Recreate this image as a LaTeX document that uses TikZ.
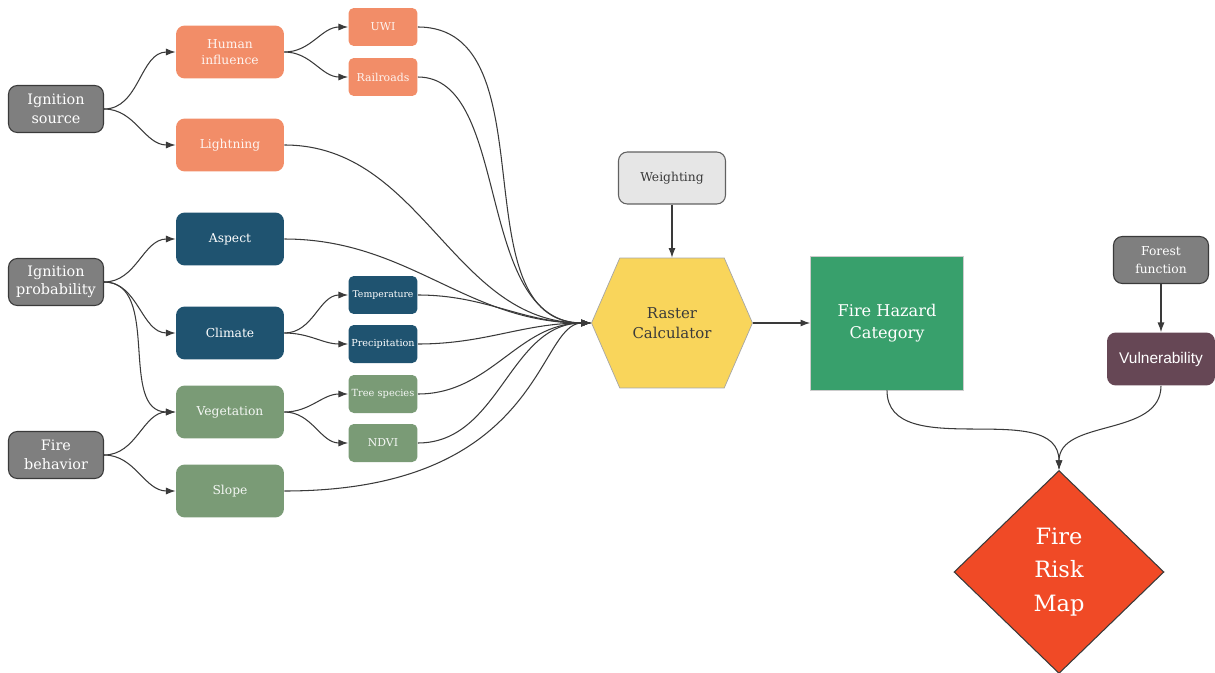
\documentclass[tikz,border=0pt]{standalone}
\usepackage{fontspec}
\setmainfont{DejaVu Serif}
\newfontfamily\arialfont{Liberation Sans}
\usetikzlibrary{arrows.meta,shapes.geometric,shapes.symbols}
\definecolor{salmon}{HTML}{F28D68}
\definecolor{deepblue}{HTML}{1F5370}
\definecolor{sage}{HTML}{7A9B76}
\definecolor{srcgray}{HTML}{7F7F7F}
\definecolor{lightgray}{HTML}{E6E6E6}
\definecolor{calcyellow}{HTML}{F9D55B}
\definecolor{hazardgreen}{HTML}{38A06C}
\definecolor{plum}{HTML}{664755}
\definecolor{riskred}{HTML}{F04A26}
\definecolor{linegray}{HTML}{3A3A3A}

\begin{document}
\begin{tikzpicture}[x=0.02cm, y=-0.02cm,
	box/.style={rounded corners=5pt, align=center, inner sep=1pt, text=white},
	src/.style={box, draw=linegray, line width=0.6pt, fill=srcgray, minimum width=1.9cm, minimum height=0.94cm, font=\fontsize{8.2}{10.5}\selectfont},
	mid/.style={box, minimum width=2.16cm, minimum height=1.06cm, font=\fontsize{7}{9.5}\selectfont},
	sub/.style={box, rounded corners=3pt, minimum width=1.38cm, minimum height=0.76cm, font=\fontsize{6.2}{7}\selectfont},
	link/.style={draw=linegray, line width=0.6pt, -{Latex[length=5.5pt,width=4pt]}, out=0, in=180}]
	\useasboundingbox (0,0) rectangle (1215,673);

	% inputs on the left
	\node[src] (IS) at (56,109) {Ignition\\source};
	\node[src] (IP) at (56,282) {Ignition\\probability};
	\node[src] (FB) at (56,455) {Fire\\behavior};

	\node[mid, fill=salmon, text=white!90!salmon] (HI) at (230,52) {Human\\influence};
	\node[mid, fill=salmon, text=white!90!salmon] (LI) at (230,145) {Lightning};
	\node[mid, fill=deepblue] (AS) at (230,239) {Aspect};
	\node[mid, fill=deepblue] (CL) at (230,333) {Climate};
	\node[mid, fill=sage, text=white!92!sage] (VE) at (230,412) {Vegetation};
	\node[mid, fill=sage, text=white!92!sage] (SL) at (230,491) {Slope};

	\node[sub, fill=salmon, text=white!90!salmon] (UWI) at (383,27) {UWI};
	\node[sub, fill=salmon, text=white!90!salmon] (RR) at (383,77) {Railroads};
	\node[sub, fill=deepblue, font=\fontsize{5.3}{6}\selectfont] (TE) at (383,295) {Temperature};
	\node[sub, fill=deepblue, font=\fontsize{5.5}{6}\selectfont] (PR) at (383,344) {Precipitation};
	\node[sub, fill=sage, text=white!92!sage, font=\fontsize{5.6}{6}\selectfont] (TS) at (383,394) {Tree species};
	\node[sub, fill=sage, text=white!92!sage] (ND) at (383,443) {NDVI};

	% processing
	\node[box, draw=linegray!80, line width=0.6pt, fill=lightgray, text=linegray, minimum width=2.14cm, minimum height=1.04cm, font=\fontsize{7}{8}\selectfont] (WE) at (672,178) {Weighting};
	\node[signal, signal to=west and east, signal pointer angle=133, draw=black!35, fill=calcyellow, minimum width=3.22cm, minimum height=2.6cm, inner sep=0pt, align=center, text=linegray, font=\fontsize{8.5}{11.5}\selectfont] (RC) at (672,323) {Raster\\Calculator};
	\node[rectangle, draw=black!20, fill=hazardgreen, minimum width=3.06cm, minimum height=2.68cm, align=center, text=white, font=\fontsize{9.2}{12.5}\selectfont] (FH) at (887,323) {Fire Hazard\\Category};

	\node[src, minimum width=1.9cm, font=\fontsize{7}{10}\selectfont] (FF) at (1161,260) {Forest\\function};
	\node[box, fill=plum, minimum width=2.16cm, minimum height=1.06cm, text=white, font=\arialfont\fontsize{8.8}{10}\selectfont] (VU) at (1161,359) {Vulnerability};
	\node[diamond, draw=linegray, line width=0.6pt, fill=riskred, minimum width=4.2cm, minimum height=4.06cm, inner sep=0pt, align=center, text=white, font=\fontsize{12.8}{19}\selectfont] (FRM) at (1059,572) {Fire\\Risk\\Map};

	% connections
	\draw[link] (IS.east) to (HI.west);
	\draw[link] (IS.east) to (LI.west);
	\draw[link] (HI.east) to (UWI.west);
	\draw[link] (HI.east) to (RR.west);
	\draw[link] (IP.east) to (AS.west);
	\draw[link] (IP.east) to (CL.west);
	\draw[link] (IP.east) to (VE.west);
	\draw[link] (FB.east) to (VE.west);
	\draw[link] (FB.east) to (SL.west);
	\draw[link] (CL.east) to (TE.west);
	\draw[link] (CL.east) to (PR.west);
	\draw[link] (VE.east) to (TS.west);
	\draw[link] (VE.east) to (ND.west);
	\foreach \n in {UWI,LI,AS,TE,PR,TS,ND}
		\draw[link] (\n.east) to (RC.west);
	\draw[link, out looseness=0.8] (RR.east) to (RC.west);
	\draw[link, out looseness=1.9, in looseness=0.4] (SL.east) to (RC.west);
	\draw[link] (WE.south) -- (RC.north);
	\draw[link] (RC.east) -- (FH.west);
	\draw[link] (FF.south) -- (VU.north);
	\draw[link, out=-90, in=90] (FH.south) to (FRM.north);
	\draw[link, out=-90, in=90] (VU.south) to (FRM.north);
\end{tikzpicture}
\end{document}
